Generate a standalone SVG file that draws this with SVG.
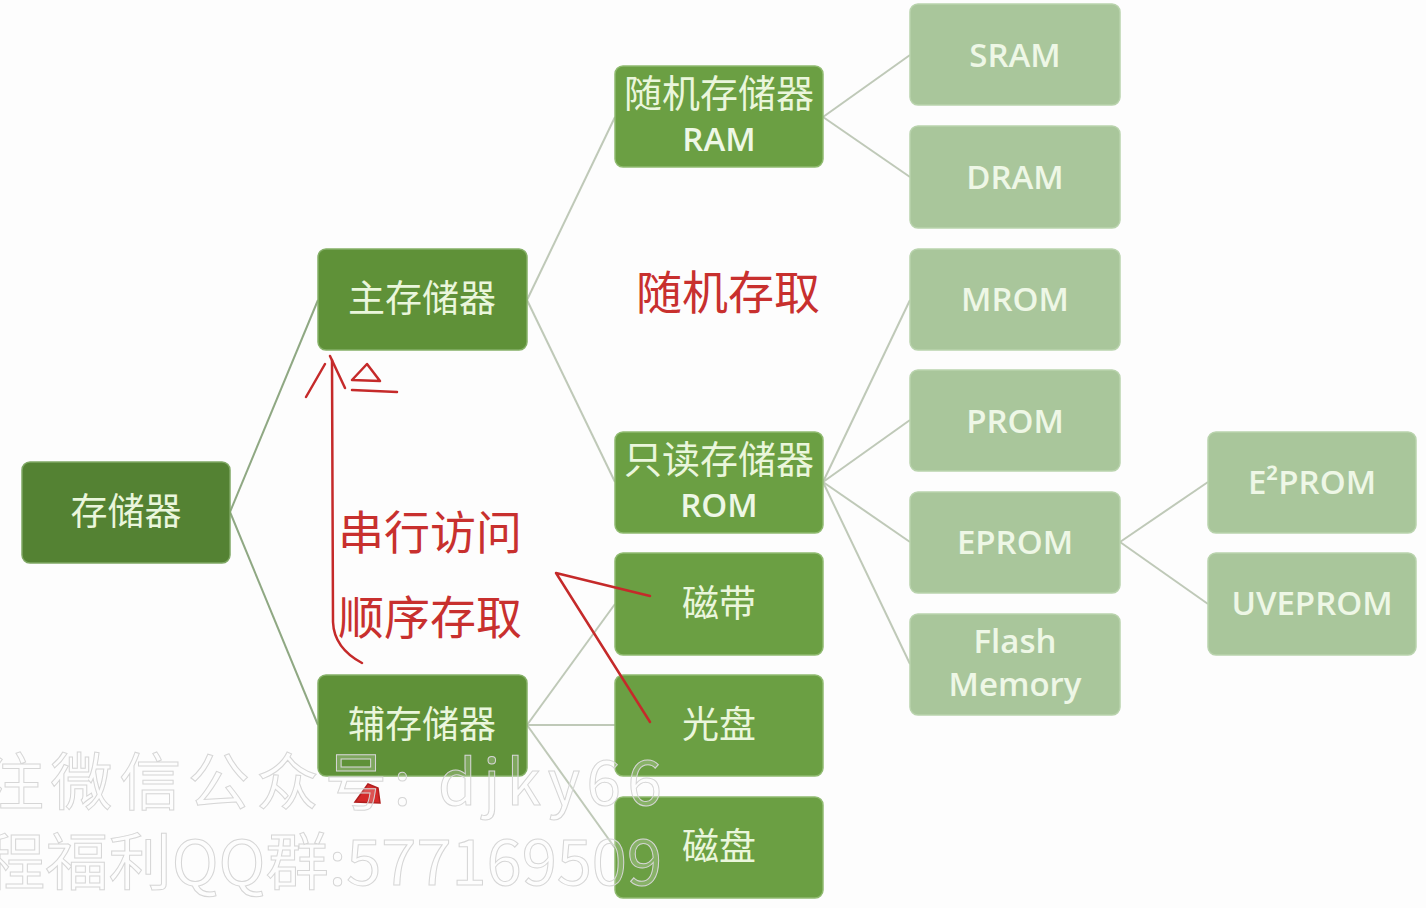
<svg xmlns="http://www.w3.org/2000/svg" width="1426" height="908" viewBox="0 0 1426 908">
<style>
.bg{fill:#fdfdfd}
.n0{fill:#548233;stroke:#7fa864;stroke-width:1.5}
.n1{fill:#5f9138;stroke:#85b067;stroke-width:1.5}
.n2{fill:#6b9f43;stroke:#90bb70;stroke-width:1.5}
.n3{fill:#a9c69b;stroke:#b9d3ad;stroke-width:1.5}
.zh{font-family:"Noto Sans CJK SC","Noto Sans",sans-serif;font-size:37px;fill:#eaf6dc;text-anchor:middle}
.en{font-family:"Open Sans","Liberation Sans",sans-serif;font-size:33px;font-weight:600;fill:#eef7e6;text-anchor:middle}
.c1{stroke:#8fa883;stroke-width:2;fill:none}
.c2{stroke:#bfc9b8;stroke-width:2;fill:none}
.red{font-family:"Noto Sans CJK SC",sans-serif;font-size:46px;fill:#c8302e}
.rl{stroke:#c52a2a;stroke-width:2.5;fill:none;stroke-linecap:round;stroke-linejoin:round}
.wm{font-family:"Noto Sans CJK SC",sans-serif;font-size:62px;fill:rgba(255,255,255,0.2);stroke:#d6d6d6;stroke-width:1}
</style>
<rect class="bg" x="0" y="0" width="1426" height="908"/>
<g id="connectors">
<line class="c1" x1="230" y1="512" x2="318" y2="300"/>
<line class="c1" x1="230" y1="512" x2="318" y2="725"/>
<line class="c2" x1="527" y1="300" x2="615" y2="117"/>
<line class="c2" x1="527" y1="300" x2="615" y2="482"/>
<line class="c2" x1="527" y1="725" x2="615" y2="604"/>
<line class="c2" x1="527" y1="725" x2="615" y2="725"/>
<line class="c2" x1="527" y1="725" x2="615" y2="848"/>
<line class="c2" x1="823" y1="117" x2="910" y2="55"/>
<line class="c2" x1="823" y1="117" x2="910" y2="177"/>
<line class="c2" x1="823" y1="482" x2="910" y2="300"/>
<line class="c2" x1="823" y1="482" x2="910" y2="420"/>
<line class="c2" x1="823" y1="482" x2="910" y2="542"/>
<line class="c2" x1="823" y1="482" x2="910" y2="664"/>
<line class="c2" x1="1120" y1="542" x2="1208" y2="482"/>
<line class="c2" x1="1120" y1="542" x2="1208" y2="604"/>
</g>
<g id="n-root"><rect class="n0" x="22" y="462" width="208" height="101" rx="8"/><text class="zh" x="126" y="525">存储器</text></g>
<g id="n-main"><rect class="n1" x="318" y="249" width="209" height="101" rx="8"/><text class="zh" x="422" y="312">主存储器</text></g>
<g id="n-aux"><rect class="n1" x="318" y="675" width="209" height="101" rx="8"/><text class="zh" x="422" y="738">辅存储器</text></g>
<g id="n-ram"><rect class="n2" x="615" y="66" width="208" height="101" rx="8"/><text class="zh" x="719" y="107" style="font-size:38px">随机存储器</text><text class="en" x="719" y="151">RAM</text></g>
<g id="n-rom"><rect class="n2" x="615" y="432" width="208" height="101" rx="8"/><text class="zh" x="719" y="473" style="font-size:38px">只读存储器</text><text class="en" x="719" y="517">ROM</text></g>
<g id="n-tape"><rect class="n2" x="615" y="553" width="208" height="102" rx="8"/><text class="zh" x="719" y="617">磁带</text></g>
<g id="n-cd"><rect class="n2" x="615" y="675" width="208" height="101" rx="8"/><text class="zh" x="719" y="738">光盘</text></g>
<g id="n-disk"><rect class="n2" x="615" y="797" width="208" height="101" rx="8"/><text class="zh" x="719" y="860">磁盘</text></g>
<g id="n-sram"><rect class="n3" x="910" y="4" width="210" height="101" rx="8"/><text class="en" x="1015" y="67">SRAM</text></g>
<g id="n-dram"><rect class="n3" x="910" y="126" width="210" height="102" rx="8"/><text class="en" x="1015" y="189">DRAM</text></g>
<g id="n-mrom"><rect class="n3" x="910" y="249" width="210" height="101" rx="8"/><text class="en" x="1015" y="311">MROM</text></g>
<g id="n-prom"><rect class="n3" x="910" y="370" width="210" height="101" rx="8"/><text class="en" x="1015" y="433">PROM</text></g>
<g id="n-eprom"><rect class="n3" x="910" y="492" width="210" height="101" rx="8"/><text class="en" x="1015" y="554">EPROM</text></g>
<g id="n-flash"><rect class="n3" x="910" y="614" width="210" height="101" rx="8"/><text class="en" x="1015" y="653">Flash</text><text class="en" x="1015" y="696">Memory</text></g>
<g id="n-e2prom"><rect class="n3" x="1208" y="432" width="208" height="101" rx="8"/><text class="en" x="1312" y="494">E²PROM</text></g>
<g id="n-uveprom"><rect class="n3" x="1208" y="553" width="208" height="102" rx="8"/><text class="en" x="1312" y="615">UVEPROM</text></g>
<g id="annotations">
<text class="red" x="636" y="309">随机存取</text>
<text class="red" x="338" y="549">串行访问</text>
<text class="red" x="338" y="634">顺序存取</text>
<path class="rl" d="M362 663 Q334 648 333 622 L332 360"/>
<path class="rl" d="M306 397 L325 364"/>
<path class="rl" d="M330 356 L345 388"/>
<path class="rl" d="M352 380 L367 364 L380 381 Z"/>
<path class="rl" d="M352 390 L397 392"/>
<path class="rl" d="M650 596 L556 573 L650 722"/>
<path d="M355 802 L368 784 L378 788 L380 803 Z" fill="#d42a2a" stroke="#b01f1f" stroke-width="1.5"/>
</g>
<g id="watermark">
<text class="wm" x="-18" y="805" textLength="680" lengthAdjust="spacing">注微信公众号: djky66</text>
<text class="wm" x="-18" y="885" textLength="680" lengthAdjust="spacingAndGlyphs">程福利QQ群:577169509</text>
</g>
</svg>
